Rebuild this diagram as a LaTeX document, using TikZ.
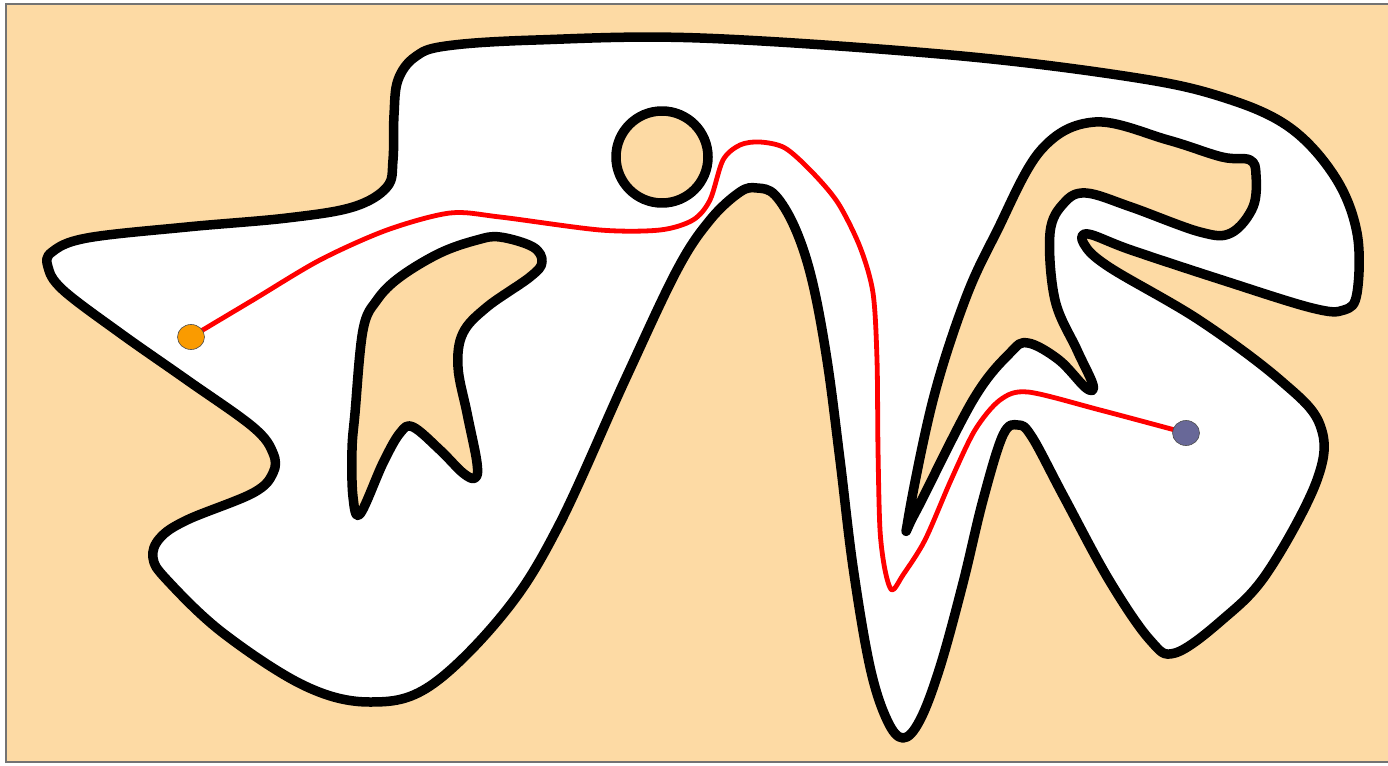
\documentclass[tikz,border=0pt]{standalone}
\usetikzlibrary{shapes.geometric}

\definecolor{sand}{RGB}{253,218,164}
\definecolor{startorange}{RGB}{250,155,0}
\definecolor{goalslate}{RGB}{104,104,152}

\pgfdeclarelayer{front}
\pgfsetlayers{main,front}

\begin{document}
\begin{tikzpicture}[
  x=1pt, y=-1pt,
  wall/.style={line width=9.5pt, line join=round},
  obstacle/.style={wall, fill=sand},
  route/.style={red, line width=4.8pt, line join=round},
  dot/.style={ellipse, draw=black!70, line width=0.6pt, minimum width=27pt, minimum height=25pt, inner sep=0pt},
]
\useasboundingbox (0,0) rectangle (1388,765);

% === BACKGROUND ===
\fill[sand] (6,4) rectangle (1388,762);
\draw[gray!90!black, line width=2.5pt] (1388,4) -- (6,4) -- (6,762) -- (1388,762);

% === FREE SPACE (outer boundary) ===
\draw[wall, fill=white] plot[smooth cycle, tension=0.6] coordinates {
  (398,80)(415,57)(446,46)(536,40)(700,38)(951,55)(1131,77)(1222,97)(1289,127)
  (1335,177)(1357,233)(1357,293)(1344,310)(1312,308)(1222,280)(1131,250)
  (1088,234)(1084,244)(1109,267)(1199,320)(1280,380)(1320,425)(1317,480)
  (1267,573)(1222,620)(1175,653)(1150,640)(1109,580)(1064,497)(1032,437)
  (1018,425)(1003,435)(983,500)(963,583)(940,667)(920,720)(903,738)
  (887,720)(870,667)(853,567)(840,460)(827,360)(812,280)(795,228)
  (775,195)(757,188)(740,192)(710,220)(677,270)(625,380)(558,527)
  (504,613)(430,686)(370,702)(305,686)(223,633)(167,580)(153,558)
  (160,538)(187,520)(253,493)(273,473)(273,453)(253,427)(187,380)
  (120,333)(63,290)(48,267)(52,252)(87,238)(187,227)(287,218)
  (353,207)(387,187)(393,160)(394,115)};

% === OBSTACLES ===
% fin
\draw[obstacle] plot[smooth cycle, tension=0.6] coordinates {
  (360,514)(353,497)(352,450)(355,413)(363,330)(377,300)(400,277)
  (440,253)(477,240)(500,237)(533,247)(542,262)(530,277)(487,307)
  (463,333)(458,367)(467,413)(477,463)(475,478)(463,473)(440,450)
  (413,427)(400,433)(383,463)};
% disc
\draw[obstacle] (662,157) circle (46);
% hand
\draw[obstacle] plot[smooth cycle, tension=0.6] coordinates {
  (908,520)(933,400)(965,300)(996,233)(1041,150)(1095,122)(1168,140)
  (1222,157)(1250,160)(1256,175)(1253,207)(1231,233)(1200,232)(1131,207)
  (1086,193)(1064,203)(1050,233)(1055,300)(1077,350)(1093,385)(1086,388)
  (1059,360)(1028,343)(1010,353)(973,400)(915,513)};

% === START / GOAL ===
\begin{pgfonlayer}{front}
  \node[dot, fill=startorange] (start) at (191,337) {};
  \node[dot, fill=goalslate] (goal) at (1186,433) {};
\end{pgfonlayer}

% path
\draw[route] plot[smooth, tension=0.5] coordinates {
  (start.center)(253,300)(320,260)(387,230)(450,213)(500,217)(600,230)
  (660,230)(693,220)(710,200)(723,160)(740,145)(760,142)(785,148)
  (812,172)(838,203)(860,247)(873,293)(877,360)(878,450)(880,530)
  (885,570)(892,590)(903,575)(925,540)(951,480)(975,430)(1000,400)
  (1028,392)(1100,410)(goal.center)};
\end{tikzpicture}
\end{document}
